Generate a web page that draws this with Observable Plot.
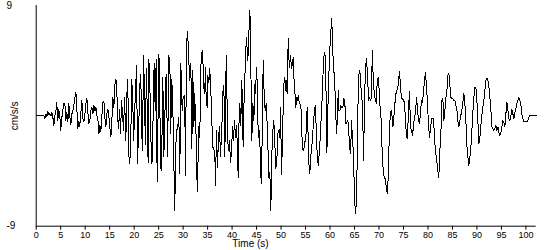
<!DOCTYPE html>
<html>
<head>
<meta charset="utf-8">
<script src="https://cdn.jsdelivr.net/npm/d3@7"></script>
<script src="https://cdn.jsdelivr.net/npm/@observablehq/plot@0.6"></script>
<style>
  html, body { margin: 0; padding: 0; background: #fff; }
  #chart { width: 550px; height: 250px; }
</style>
</head>
<body>
<div id="chart"></div>
<script>
// Time in seconds
const time = [
0,0.54,1.22,1.56,1.77,1.97,2.18,2.38,2.58,2.79,3.0,3.2,3.4,3.6,3.8,4.0,4.2,4.4,4.6,4.8,
5.0,5.2,5.4,5.65,5.85,6.05,6.26,6.46,6.67,6.87,7.08,7.28,7.49,7.69,7.9,8.1,8.3,8.5,8.7,8.9,
9.1,9.33,9.53,9.74,9.94,10.14,10.35,10.55,10.76,10.96,11.17,11.37,11.57,11.78,11.98,12.19,12.39,12.6,12.8,13.0,
13.2,13.41,13.62,13.82,14.02,14.23,14.43,14.64,14.84,15.05,15.25,15.45,15.66,15.86,16.07,16.2,16.41,16.61,16.82,17.02,
17.22,17.43,17.63,17.84,18.04,18.3,18.5,18.7,18.9,19.1,19.3,19.5,19.7,19.9,20.1,20.3,20.5,20.7,20.9,21.05,
21.25,21.45,21.65,21.95,22.15,22.3,22.5,22.7,22.85,23.0,23.2,23.35,23.55,23.75,23.95,24.1,24.3,
24.5,24.7,24.9,25.04,25.18,25.38,25.59,25.86,26.06,26.27,26.4,26.6,26.81,26.95,27.08,27.29,27.49,27.63,27.76,27.9,
28.1,28.31,28.44,28.65,28.85,29.13,29.33,29.53,29.67,29.81,30.01,30.21,30.35,30.49,30.69,30.9,31.03,31.17,31.37,31.58,
31.78,31.98,32.19,32.39,32.53,32.73,32.87,33.0,33.21,33.41,33.55,33.69,33.89,34.09,34.3,34.43,34.57,34.71,34.91,35.05,
35.25,35.46,35.59,35.73,35.93,36.07,36.27,36.48,36.61,36.82,37.02,37.23,37.43,37.64,37.84,38.04,38.18,38.38,38.52,38.72,
38.86,39.06,39.27,39.47,39.68,39.88,40.08,40.29,40.49,40.7,40.9,41.11,41.24,41.38,41.58,41.79,41.92,42.06,42.26,42.47,
42.6,42.74,42.88,43.01,43.22,43.42,43.63,43.76,43.9,44.03,44.24,44.44,44.65,44.78,44.99,45.19,45.33,45.53,45.74,45.94,
46.14,46.35,46.55,46.76,46.96,47.16,47.3,47.5,47.71,47.91,48.12,48.32,48.52,48.73,48.93,49.14,49.34,49.55,49.75,
49.89,50.1,50.23,50.37,50.57,50.78,50.91,51.05,51.25,51.46,51.59,51.73,51.93,52.14,52.27,52.48,52.68,52.82,53.02,53.16,
53.36,53.5,53.64,53.84,54.05,54.18,54.32,54.52,54.73,54.86,55.07,55.2,55.34,55.54,55.68,55.88,56.02,56.22,56.43,56.63,
56.84,56.97,57.11,57.25,57.45,57.59,57.79,57.93,58.13,58.34,58.54,58.74,58.95,59.09,59.22,59.36,59.5,59.7,59.9,60.11,
60.31,60.45,60.58,60.79,60.99,61.2,61.33,61.54,61.67,61.81,62.01,62.22,62.42,62.63,62.83,63.03,63.24,63.44,63.65,63.78,
63.99,64.19,64.4,64.53,64.74,64.94,65.08,65.21,65.35,65.49,65.62,65.76,65.96,66.17,66.3,66.51,66.71,66.85,66.98,67.12,
67.33,67.46,67.67,67.87,68.07,68.28,68.48,68.62,68.82,69.03,69.23,69.44,69.64,69.84,70.05,70.25,70.46,70.66,70.87,71.07,
71.27,71.48,71.68,71.89,72.09,72.3,72.5,72.7,72.84,73.04,73.25,73.45,73.66,73.86,
73.98,74.19,74.39,74.6,74.8,75.0,75.21,75.41,75.62,75.82,76.03,76.23,76.43,76.64,76.84,77.05,77.25,77.46,77.66,77.86,
78.07,78.27,78.48,78.68,78.89,79.09,79.3,79.5,79.7,79.91,80.11,80.32,80.52,80.73,80.93,81.13,81.34,81.54,81.75,81.95,
82.15,82.29,82.43,82.63,82.84,83.04,83.24,83.45,83.65,83.86,84.06,84.27,84.47,84.67,84.88,85.08,85.29,85.49,85.7,85.9,
86.1,86.31,86.51,86.72,86.92,87.13,87.33,87.53,87.74,87.94,88.15,88.35,88.56,88.76,88.97,89.17,89.37,89.58,89.78,89.99,
90.19,90.4,90.6,90.8,91.01,91.21,91.42,91.62,91.83,92.03,92.23,92.44,92.64,92.85,93.05,93.26,93.46,93.66,93.87,94.07,
94.28,94.48,94.69,94.89,95.09,95.3,95.5,95.71,95.91,96.12,96.32,96.52,96.73,96.93,97.14,97.34,97.55,97.75,97.95,98.16,
98.36,98.57,98.77,98.98,99.18,99.38,99.59,99.79,100.0,100.2,100.4,100.6,100.8,101.0,101.6,102.2
];

// Acceleration in cm/s/s
const accel = [
0,0.05,0,0,-0.2,0.15,-0.05,0.35,0.1,0.2,0,0.25,-0.1,-0.8,0,0.3,1.1,-0.4,0.5,0.15,
-1.2,-0.25,0.3,1.05,1.0,-0.4,0.3,-0.5,1.0,-0.1,-0.7,0.15,0.45,0.85,1.5,1.95,0.55,-1.05,-0.45,-0.85,
0.15,1.25,-0.25,-0.5,0.1,1.0,1.4,0.3,-0.6,-0.35,0.45,0.7,0.15,0.85,0.4,0.7,0,-0.25,-1.45,-0.8,
-1.25,0,1.1,1.2,-0.1,-0.9,0.15,0.55,-0.05,-1.0,-1.7,-0.4,1.5,0.7,2.5,2.95,2.9,-0.1,-1.05,0.55,
-1.45,1.25,0.05,-1.2,1.5,-2.0,1.7,3.0,-3.2,-3.9,-2.3,3.0,1.5,-2.0,0.3,2.3,4.1,-3.9,-1.0,0.55,
3.4,1.8,-2.85,4.9,0.45,-2.3,3.85,0,-3.8,4.6,2.75,-0.65,-3.9,-3.65,2.6,4.25,0.45,
4.6,-5.4,0.45,5.05,3.95,-4.2,-4.45,3.15,-3.35,-0.4,2.9,3.4,-3.35,0.45,4.9,4.5,-1.45,3.0,2.35,0.7,
-3.65,-7.7,-3.1,-1.2,-1.05,-0.1,-4.75,4.25,2.35,0.45,1.5,1.65,0.45,-4.85,5.85,6.9,5.85,4.4,2.9,4.25,
-2.7,3.7,-0.9,1.8,-0.9,-2.0,-6.2,-4.45,-0.9,-1.75,2.6,4.8,5.3,4.1,1.8,2.05,3.95,1.25,0.7,3.3,
2.75,3.85,2.05,1.5,-1.2,-2.55,-2.7,-3.1,-5.7,-1.2,-4.2,-1.75,-0.9,-3.35,-1.45,0.45,2.5,1.5,-3.35,3.15,
4.9,-1.75,-2.85,-2.0,-3.8,-2.95,-0.9,-2.0,-0.4,-1.75,-0.8,-2.85,-5.0,-0.9,1.0,-0.8,2.9,1.95,-2.55,1.8,
3.4,3.7,6.4,5.85,4.5,6.7,8.6,6.7,1.8,-2.0,1.0,-0.4,2.6,1.8,3.95,2.05,-1.75,-1.2,-2.85,-5.55,
-2.0,4.5,1.8,0.45,1.0,-0.65,-2.3,-5.0,-4.6,-7.7,-3.1,-1.2,-0.4,-2.3,-4.3,-3.65,-1.45,-1.2,-1.75,
0.7,-4.75,-2.85,-0.4,2.6,3.15,2.05,2.9,1.8,6.3,4.8,3.95,4.9,3.85,4.1,4.8,2.6,1.95,0.7,1.5,
1.25,1.65,1.25,1.0,0.7,-0.1,-2.3,-2.85,-2.55,-2.15,-1.75,-0.4,0.7,-1.75,-3.9,-4.75,-3.35,-2.85,-1.75,-0.4,
0.45,0.85,-0.1,-2.3,-3.35,-4.05,-3.1,-2.3,-0.65,1.0,3.15,4.8,5.2,3.7,1.25,-3.0,-0.1,2.35,5.05,6.4,
7.9,6.95,5.05,3.7,2.35,-0.1,-1.45,0.15,2.05,0.45,0.45,0.85,0.7,0.7,1.4,1.0,-0.65,-0.5,-0.4,-0.9,
-2.55,-3.1,-0.4,-1.45,-2.85,-5.55,-7.2,-8.0,-7.2,-5.0,-1.2,2.05,3.7,3.4,2.35,1.5,-0.65,-3.65,-0.4,2.35,
4.25,4.65,3.15,1.25,1.5,1.25,1.5,5.3,3.15,1.8,1.4,1.0,2.9,3.15,2.05,0.45,-0.4,-3.1,-4.45,-5.0,
-5.15,-5.8,-6.35,-5.0,-1.75,0.15,0.45,-0.1,-0.9,-0.1,1.0,1.8,2.05,2.35,
2.9,3.65,2.35,1.4,1.4,1.25,1.1,-0.4,-1.75,-1.85,0.7,1.95,-0.9,-1.2,-1.6,-0.8,-0.1,0.3,1.5,0.55,
-0.4,-0.65,0.3,1.25,1.1,2.05,2.9,3.55,2.35,1.0,-0.8,-1.75,-1.05,-0.25,-0.25,-0.25,-1.75,-2.95,-3.5,-4.2,
-5.0,-4.45,-2.85,-1.45,1.25,1.4,-0.4,0.45,1.4,2.05,3.3,3.45,2.5,1.5,1.4,1.4,1.25,1.25,0.85,0.55,
-0.4,-0.9,-0.4,0.05,0.45,1.1,1.8,1.0,-0.4,-2.4,-3.35,-4.05,-3.35,-2.55,-1.2,0.3,1.5,2.35,2.35,1.25,
-0.4,-2.3,-1.75,-0.8,0.05,0.7,1.25,2.05,2.9,3.1,2.9,2.35,1.5,0.45,-0.9,-1.05,-1.2,-1.05,-0.8,-1.2,
-0.9,-1.35,-1.6,-1.35,-0.9,-0.4,-0.5,-0.9,0.15,1.1,0.45,-0.25,-0.4,0,0.55,0.15,-0.25,0.3,0.55,1.0,
1.25,1.5,1.25,0.85,0.15,-0.25,-0.45,-0.5,-0.5,-0.5,-0.4,-0.1,0,0,0,0
];

const xTicks = [0,5,10,15,20,25,30,35,40,45,50,55,60,65,70,75,80,85,90,95,100];
const yTicks = [9, -9];
const xLabel = "Time (s)";
const yLabel = "cm/s/s";

const data = time.map((t, i) => ({t, a: accel[i]}));

const chart = Plot.plot({
  width: 550,
  height: 250,
  marginTop: 5,
  marginBottom: 24.3,
  marginLeft: 35.7,
  marginRight: 14.3,
  style: {fontFamily: "'Liberation Sans', Arial, sans-serif", fontSize: "10px", background: "#fff", color: "#000"},
  x: {domain: [0, 102.1]},
  y: {domain: [-9, 9], axis: null},
  marks: [
    Plot.ruleX([0], {stroke: "#000", strokeWidth: 1}),
    Plot.ruleY([-9], {stroke: "#000", strokeWidth: 1}),
    Plot.axisX({ticks: xTicks, tickSize: 4, tickPadding: 1, label: null, fontSize: 9, tickFormat: d => String(d)}),
    Plot.text(yTicks, {y: d => d, text: d => String(d), frameAnchor: "left", dx: -29.7, textAnchor: "start", fill: "#000", fontSize: 10}),
    Plot.text([yLabel], {frameAnchor: "left", dx: -21.9, rotate: -90, textAnchor: "middle", fill: "#000", fontSize: 10}),
    Plot.text([xLabel], {frameAnchor: "bottom-left", dx: 214.3, dy: 20.9, textAnchor: "middle", fill: "#000", fontSize: 10}),
    Plot.line(data, {x: "t", y: "a", stroke: "#000", strokeWidth: 1, shapeRendering: "crispEdges"})
  ]
});
document.getElementById("chart").appendChild(chart);
</script>
</body>
</html>
